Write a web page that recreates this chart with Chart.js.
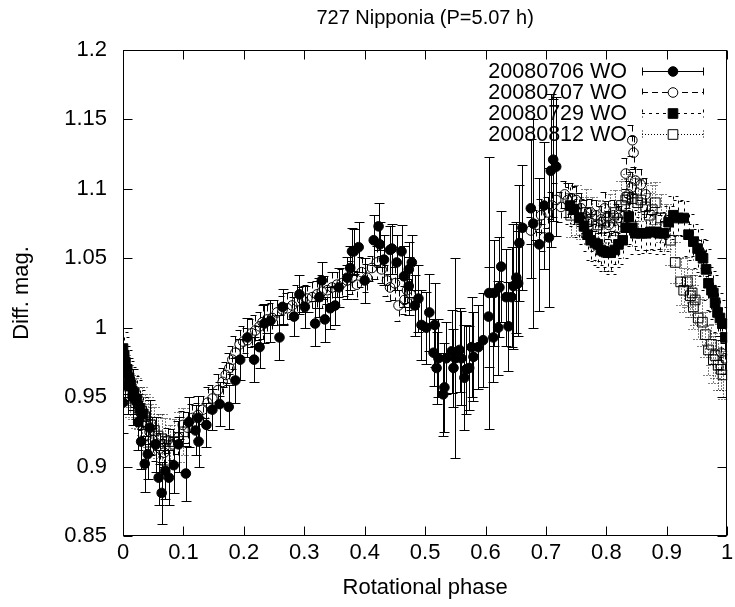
<!DOCTYPE html>
<html>
<head>
<meta charset="utf-8">
<script src="https://cdn.jsdelivr.net/npm/chart.js@4.4.1/dist/chart.umd.min.js"></script>
<style>
html,body{margin:0;padding:0;background:#fff;}
canvas{display:block;}
</style>
</head>
<body>
<canvas id="c" width="735" height="607"></canvas>
<script>
// ---- data (phase, diff. mag, error) ----
const chartTitle = "727 Nipponia (P=5.07 h)";
const labels = ["20080706 WO", "20080707 WO", "20080729 WO", "20080812 WO"];

const phase06 = [0.000,0.008,0.016,0.025,0.030,0.036,0.041,0.044,0.054,0.059,0.064,0.070,0.076,0.084,0.092,0.104,0.109,0.120,0.124,0.125,0.138,0.148,0.160,0.175,
0.186,0.194,0.206,0.217,0.226,0.234,0.244,0.259,0.264,0.283,0.292,0.301,0.318,0.325,0.329,0.334,0.343,0.351,0.357,0.371,0.376,0.379,0.382,0.390,0.400,0.415,0.423,0.425,0.432,0.442,0.445,0.453,0.461,0.465,0.473,0.473,0.478,0.483,0.489,0.494,0.502,0.507,0.514,0.516,0.519,0.522,0.530,0.532,0.535,0.544,0.547,0.550,0.557,0.560,0.565,0.568,0.573,0.577,0.580,0.588,0.596,0.605,0.606,0.613,0.614,0.621,0.623,0.626,0.634,0.638,0.643,0.646,0.651,0.654,0.656,0.661,0.675,0.679,0.689,0.697,0.705,0.708,0.712,0.717];
const mag06 = [0.946,0.958,0.950,0.932,0.918,0.902,0.909,0.928,0.916,0.892,0.881,0.897,0.892,0.901,0.916,0.895,0.932,0.926,0.935,0.918,0.930,0.941,0.945,0.943,
0.962,0.977,0.993,0.977,0.986,1.003,1.005,0.993,1.015,1.008,1.024,1.015,1.003,1.022,1.034,1.006,1.014,1.016,1.029,1.036,1.043,1.055,1.055,1.058,1.034,1.063,1.073,1.060,1.049,1.056,1.057,1.047,1.055,1.037,1.042,1.030,1.047,1.016,1.021,1.002,1.000,1.011,0.982,1.002,0.971,0.978,0.952,0.957,0.978,0.983,0.971,0.978,0.984,0.978,0.964,0.970,0.971,0.986,0.979,0.986,0.991,1.008,1.025,0.993,1.025,1.000,1.029,1.044,1.022,1.001,1.022,1.030,1.036,1.032,1.061,1.072,1.086,1.075,1.060,1.088,1.065,1.113,1.121,1.116];
const err06 = [0.022,0.020,0.020,0.020,0.020,0.020,0.018,0.020,0.020,0.020,0.022,0.020,0.020,0.020,0.020,0.020,0.018,0.018,0.016,0.018,0.016,0.015,0.016,0.016,
0.016,0.015,0.014,0.016,0.015,0.014,0.015,0.016,0.013,0.014,
0.014,0.015,0.016,0.014,0.013,0.016,0.015,0.014,0.014,0.015,
0.016,0.017,0.016,0.018,0.016,0.018,0.017,0.016,0.018,0.017,
0.018,0.020,0.019,0.022,0.020,0.021,0.020,0.022,0.024,0.025,
0.026,0.028,0.024,0.030,0.026,0.028,0.030,0.032,0.026,0.030,
0.028,0.072,0.030,0.034,0.038,0.032,0.030,0.036,0.032,0.030,
0.034,0.036,0.098,0.032,0.038,0.034,0.036,0.040,0.035,0.032,
0.036,0.045,0.040,0.038,0.042,0.045,0.050,0.075,0.048,0.046,
0.050,0.055,0.044,0.050];

const phase07 = [0.000,0.005,0.008,0.013,0.016,0.021,0.025,0.031,0.038,0.044,0.049,0.054,0.061,0.068,0.074,0.082,0.091,0.099,0.107,0.115,0.124,0.132,0.140,0.148,0.157,0.165,0.170,0.176,0.181,0.186,0.193,0.199,0.206,0.213,0.219,0.226,0.231,0.239,0.247,0.255,0.264,0.272,0.280,0.288,0.297,0.305,0.313,0.321,0.329,0.338,0.346,0.354,0.362,0.371,0.379,0.387,0.395,0.404,0.412,0.420,0.428,0.437,0.442,0.450,0.456,0.466,0.470,0.476,
0.675,0.684,0.692,0.697,0.703,0.710,0.717,0.725,0.731,0.736,0.743,0.750,0.758,0.766,0.774,0.783,0.791,0.797,0.802,0.804,0.812,0.819,0.825,0.832,0.837,0.842,0.843,0.845,0.848,0.857,0.865,0.990,0.996];
const mag07 = [0.973,0.968,0.962,0.957,0.952,0.948,0.944,0.937,0.930,0.925,0.919,0.916,0.913,0.910,0.919,0.916,0.921,0.930,0.928,0.935,0.937,0.941,0.946,0.949,0.955,0.961,0.966,0.971,0.977,0.982,0.988,0.990,0.991,0.996,0.998,1.001,1.004,1.006,1.007,1.011,1.013,1.014,1.016,1.019,1.020,1.021,1.022,1.024,1.026,1.027,1.029,1.031,1.032,1.034,1.036,1.031,1.040,1.036,1.043,1.047,1.042,1.034,1.029,1.032,1.016,1.020,1.027,1.024,
1.070,1.074,1.081,1.065,1.083,1.088,1.092,1.087,1.096,1.092,1.093,1.092,1.086,1.080,1.083,1.081,1.078,1.086,1.080,1.074,1.081,1.079,1.076,1.111,1.096,1.101,1.135,1.126,1.106,1.103,1.096,0.982,0.978];
const err07 = [0.010,0.011,0.010,0.009,0.011,0.010,0.012,0.010,0.011,0.009,0.010,0.012,0.011,0.010,0.009,0.011,0.012,0.010,0.011,0.010,
0.009,0.010,0.011,0.010,0.012,0.010,0.009,0.011,0.010,0.012,0.010,0.011,0.009,0.010,0.011,0.010,0.012,0.010,0.011,0.009,
0.010,0.011,0.010,0.012,0.009,0.010,0.011,0.010,0.012,0.010,0.011,0.009,0.010,0.011,0.012,0.010,0.011,0.010,0.009,0.012,
0.010,0.011,0.010,0.012,0.011,0.010,0.009,0.011,
0.010,0.011,0.012,0.010,0.011,0.010,0.012,0.011,0.010,0.012,0.011,0.010,0.011,0.012,0.010,0.011,0.010,0.012,0.011,0.010,
0.011,0.010,0.012,0.011,0.010,0.011,0.011,0.012,0.010,0.011,0.012,0.012,0.011];

const phase29 = [0.000,0.002,0.004,0.007,0.010,0.013,0.018,0.023,0.028,0.033,
0.740,0.746,0.755,0.763,0.769,0.774,0.781,0.786,0.791,0.796,0.802,0.807,0.814,0.820,0.827,0.832,0.837,0.843,0.848,0.857,0.865,0.873,0.881,0.888,0.895,0.903,0.911,0.919,0.928,0.936,0.944,0.951,0.956,0.960,0.965,0.969,0.974,0.977,0.980,0.984,0.988,0.992,0.997];
const mag29 = [0.985,0.980,0.975,0.970,0.964,0.959,0.953,0.948,0.942,0.938,
1.088,1.085,1.079,1.073,1.067,1.063,1.061,1.060,1.056,1.055,1.054,1.054,1.056,1.060,1.063,1.072,1.080,1.072,1.068,1.068,1.068,1.069,1.069,1.068,1.068,1.076,1.081,1.079,1.079,1.067,1.062,1.057,1.052,1.050,1.042,1.032,1.027,1.025,1.018,1.011,1.007,1.003,0.993];
const err29 = [0.012,0.013,0.012,0.014,0.012,0.013,0.012,0.014,0.013,0.012,
0.013,0.012,0.014,0.013,0.012,0.014,0.013,0.015,0.012,0.014,0.013,0.015,0.012,0.014,0.013,0.012,0.014,0.013,0.015,0.012,0.014,0.013,0.012,0.015,0.013,0.012,0.014,0.013,0.012,0.015,0.013,0.014,0.012,0.013,0.015,0.012,0.014,0.013,0.012,0.014,0.013,0.012,0.013];

const phase12 = [0.000,0.004,0.008,0.012,0.017,0.021,0.026,0.031,0.036,0.041,0.046,0.052,0.058,0.064,0.070,0.077,0.084,0.092,0.100,
0.741,0.750,0.758,0.766,0.776,0.786,0.796,0.806,0.815,0.825,0.832,0.835,0.843,0.852,0.857,0.865,0.871,0.876,0.881,0.890,0.898,0.906,0.914,0.923,0.928,0.934,0.939,0.942,0.944,0.947,0.952,0.959,0.964,0.969,0.974,0.977,0.980,0.985,0.990,0.993];
const mag12 = [0.968,0.962,0.958,0.953,0.950,0.946,0.942,0.940,0.936,0.932,0.930,0.926,0.922,0.920,0.918,0.915,0.918,0.921,0.925,
1.081,1.085,1.079,1.083,1.078,1.074,1.076,1.079,1.083,1.088,1.092,1.094,1.093,1.090,1.092,1.087,1.081,1.085,1.090,1.079,1.073,1.063,1.047,1.033,1.027,1.033,1.023,1.025,1.015,1.020,1.007,1.004,0.995,0.984,0.988,0.977,0.980,0.973,0.970,0.966];
const err12 = [0.016,0.018,0.015,0.017,0.016,0.018,0.015,0.017,0.016,0.018,0.015,0.017,0.016,0.018,0.017,0.015,0.016,0.018,0.017,
0.016,0.018,0.015,0.017,0.016,0.018,0.015,0.017,0.016,0.018,0.015,0.017,0.016,0.018,0.015,0.017,0.016,0.018,0.015,0.017,
0.016,0.018,0.015,0.017,0.016,0.018,0.015,0.017,0.016,0.018,0.015,0.017,0.016,0.018,0.015,0.017,0.016,0.018,0.015,0.017];

const xTicksStep = 0.1, yTicksStep = 0.05;
const FONT = '"Liberation Sans", Arial, Helvetica, sans-serif';

function pts(px, py, pe) { return px.map((v, i) => ({x: v, y: py[i], e: pe[i]})); }

const datasets = [
  {label: labels[0], data: pts(phase06, mag06, err06), pointStyle: 'circle', pointRadius: 4.8, backgroundColor: '#000', borderColor: '#000', borderWidth: 1, errDash: [], order: 4},
  {label: labels[1], data: pts(phase07, mag07, err07), pointStyle: 'circle', pointRadius: 4.8, backgroundColor: 'rgba(0,0,0,0)', borderColor: '#000', borderWidth: 1, errDash: [6, 4], order: 3},
  {label: labels[2], data: pts(phase29, mag29, err29), pointStyle: 'rect', pointRadius: 6.8, backgroundColor: '#000', borderColor: '#000', borderWidth: 1, errDash: [3, 4], order: 2},
  {label: labels[3], data: pts(phase12, mag12, err12), pointStyle: 'rect', pointRadius: 6.8, backgroundColor: 'rgba(0,0,0,0)', borderColor: '#000', borderWidth: 1, errDash: [1, 2], order: 1}
];
datasets.forEach(d => { d.pointHoverRadius = d.pointRadius; d.showLine = false; });

const CAP = 5;
const errorBars = {
  id: 'errorBars',
  beforeDatasetDraw(chart, args) {
    const ds = chart.data.datasets[args.index];
    const {ctx, chartArea: a, scales: {x, y}} = chart;
    ctx.save();
    ctx.beginPath(); ctx.rect(a.left, a.top, a.right - a.left, a.bottom - a.top); ctx.clip();
    ctx.strokeStyle = '#000'; ctx.lineWidth = 1; ctx.setLineDash(ds.errDash);
    ds.data.forEach(p => {
      const px = Math.round(x.getPixelForValue(p.x)) + 0.5;
      const y1 = Math.round(y.getPixelForValue(p.y + p.e)) + 0.5;
      const y2 = Math.round(y.getPixelForValue(p.y - p.e)) + 0.5;
      ctx.beginPath();
      ctx.moveTo(px, y1); ctx.lineTo(px, y2);
      ctx.moveTo(px - CAP, y1); ctx.lineTo(px + CAP, y1);
      ctx.moveTo(px - CAP, y2); ctx.lineTo(px + CAP, y2);
      ctx.stroke();
    });
    ctx.restore();
  }
};

const frame = {
  id: 'frame',
  afterDraw(chart) {
    const {ctx, chartArea: a, scales: {x, y}} = chart;
    const L = Math.round(a.left) + 0.5, R = Math.round(a.right) - 0.5, T = Math.round(a.top) + 0.5, B = Math.round(a.bottom) - 0.5;
    ctx.save();
    ctx.strokeStyle = '#000'; ctx.lineWidth = 1; ctx.setLineDash([]);
    ctx.strokeRect(L, T, R - L, B - T);
    const TL = 9;
    ctx.beginPath();
    x.ticks.forEach(t => {
      const px = Math.round(x.getPixelForValue(t.value)) + 0.5;
      ctx.moveTo(px, B); ctx.lineTo(px, B - TL);
      ctx.moveTo(px, T); ctx.lineTo(px, T + TL);
    });
    y.ticks.forEach(t => {
      const py = Math.round(y.getPixelForValue(t.value)) + 0.5;
      ctx.moveTo(L, py); ctx.lineTo(L + TL, py);
      ctx.moveTo(R, py); ctx.lineTo(R - TL, py);
    });
    ctx.stroke();
    // title centred over the plot area (gnuplot style)
    ctx.font = '20px ' + FONT;
    ctx.fillStyle = '#000'; ctx.textAlign = 'center'; ctx.textBaseline = 'middle';
    ctx.fillText(chartTitle, (a.left + a.right) / 2, 18);
    ctx.restore();
  }
};

const key = {
  id: 'key',
  afterDraw(chart) {
    const {ctx} = chart;
    const textR = 627, s0 = 642, s1 = 704, mx = 673, top = 71, step = 21;
    ctx.save();
    ctx.font = '21.5px ' + FONT;
    ctx.fillStyle = '#000'; ctx.textAlign = 'right'; ctx.textBaseline = 'middle';
    chart.data.datasets.forEach((ds, i) => {
      const yy = Math.round(top + i * step) + 0.5;
      ctx.fillStyle = '#000';
      ctx.fillText(ds.label, textR, yy + 1);
      ctx.strokeStyle = '#000'; ctx.lineWidth = 1;
      ctx.setLineDash(ds.errDash);
      ctx.beginPath();
      ctx.moveTo(s0, yy); ctx.lineTo(s1, yy);
      ctx.moveTo(s0 + 0.5, yy - 4); ctx.lineTo(s0 + 0.5, yy + 4);
      ctx.moveTo(s1 - 0.5, yy - 4); ctx.lineTo(s1 - 0.5, yy + 4);
      ctx.stroke();
      ctx.setLineDash([]);
      ctx.beginPath();
      if (ds.pointStyle === 'circle') {
        ctx.arc(mx, yy, ds.pointRadius, 0, Math.PI * 2);
      } else {
        const h = ds.pointRadius * Math.SQRT1_2;
        ctx.rect(mx - h, yy - h, 2 * h, 2 * h);
      }
      ctx.fillStyle = ds.backgroundColor === '#000' ? '#000' : '#fff';
      ctx.fill();
      ctx.stroke();
    });
    ctx.restore();
  }
};

const fmt = v => String(+Number(v).toFixed(2));

new Chart(document.getElementById('c'), {
  type: 'scatter',
  data: {datasets},
  plugins: [errorBars, frame, key],
  options: {
    responsive: false,
    animation: false,
    devicePixelRatio: 1,
    layout: {padding: {left: 0, right: 3, top: 50, bottom: 0}},
    plugins: {
      legend: {display: false},
      tooltip: {enabled: false},
      title: {display: false}
    },
    scales: {
      x: {
        type: 'linear', min: 0, max: 1,
        grid: {display: false, drawTicks: false},
        border: {display: false},
        ticks: {stepSize: xTicksStep, autoSkip: false, maxRotation: 0, color: '#000', padding: 4,
          font: {family: FONT, size: 22}, callback: fmt},
        title: {display: true, text: 'Rotational phase', color: '#000',
          font: {family: FONT, size: 22}, padding: {top: 0, bottom: 6}},
        afterFit(s) { s.height = 71; s.paddingLeft = 0; s.paddingRight = 0; }
      },
      y: {
        type: 'linear', min: 0.85, max: 1.2,
        grid: {display: false, drawTicks: false},
        border: {display: false},
        ticks: {stepSize: yTicksStep, autoSkip: false, color: '#000', padding: 16,
          font: {family: FONT, size: 22}, callback: fmt},
        title: {display: true, text: 'Diff. mag.', color: '#000',
          font: {family: FONT, size: 22}, padding: {top: 9, bottom: 0}},
        afterFit(s) { s.width = 123; s.paddingTop = 0; s.paddingBottom = 0; }
      }
    }
  }
});
</script>
</body>
</html>
